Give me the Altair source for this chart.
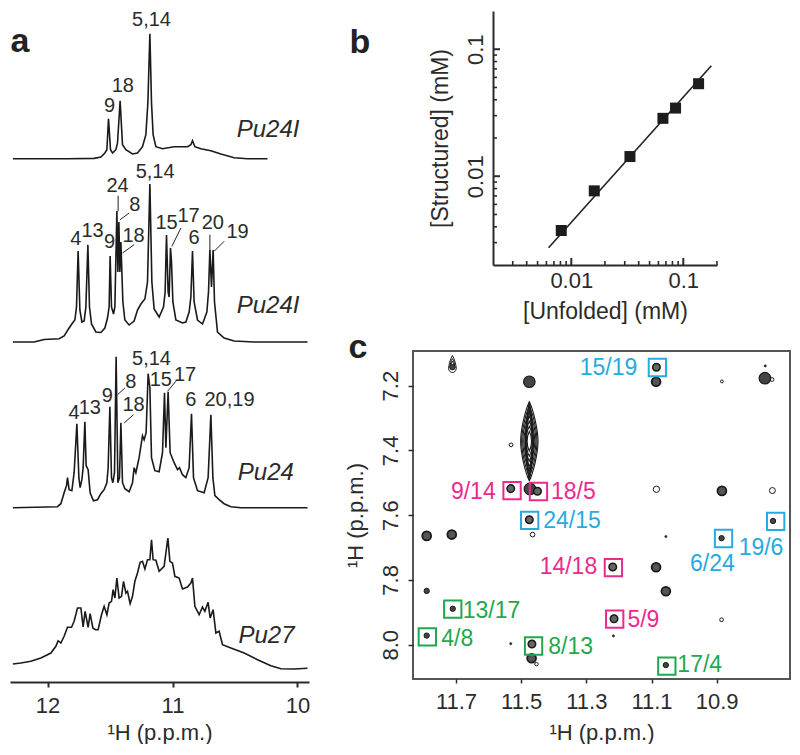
import altair as alt
import pandas as pd

FONT = "Liberation Sans"
INK = "#2b2b2b"

# ---------- panel a: spectra (ppm, intensity above own baseline) ----------
s1_ppm = [12.277,12.107,11.84,11.627,11.573,11.541,11.525,11.512,11.496,11.48,11.453,11.44,11.419,11.40,11.373,11.32,11.28,11.24,11.213,11.197,11.181,11.168,11.155,11.133,11.08,10.987,10.88,10.853,10.84,10.821,10.773,10.693,10.613,10.507,10.40,10.24]
s1_int = [0,0,0,0.3,1.7,5.7,9,40,9,5.7,9,15.7,58,14,9,4.7,5.7,12,24,56,125,56,24,12,10,12,12,14,18,12,10,8,4.7,1,0,0]
s2_ppm = [12.277,12.107,12.027,11.907,11.867,11.827,11.80,11.781,11.768,11.755,11.741,11.725,11.707,11.693,11.677,11.664,11.648,11.613,11.573,11.541,11.52,11.507,11.499,11.488,11.472,11.461,11.445,11.437,11.429,11.421,11.413,11.397,11.381,11.347,11.307,11.28,11.253,11.221,11.20,11.181,11.165,11.147,11.107,11.072,11.059,11.048,11.035,11.027,11.016,11.008,10.997,10.973,10.92,10.893,10.867,10.853,10.84,10.827,10.80,10.76,10.725,10.712,10.701,10.688,10.675,10.664,10.64,10.587,10.507,10.347,9.92]
s2_int = [0,0,2.5,3.3,6,14,19,22,35,91,32,20,21,35,97,35,18,10,9.5,14,24,35,86,35,28,35,131,70,120,70,100,40,22,17,21,32,38,43,60,158,60,33,25,35,50,107,50,45,94,80,40,22,19,20,30,45,91,40,22,18,30,50,92,55,92,40,10,4,1,0,0]
s3_ppm = [12.277,11.92,11.893,11.867,11.848,11.84,11.827,11.805,11.787,11.765,11.749,11.739,11.725,11.715,11.701,11.691,11.675,11.659,11.632,11.60,11.573,11.547,11.525,11.515,11.501,11.488,11.477,11.464,11.451,11.437,11.424,11.413,11.40,11.381,11.347,11.32,11.307,11.293,11.267,11.24,11.227,11.211,11.195,11.181,11.168,11.141,11.107,11.08,11.064,11.053,11.035,11.019,10.987,10.96,10.944,10.92,10.893,10.867,10.848,10.832,10.80,10.747,10.715,10.693,10.677,10.661,10.627,10.587,10.533,10.453,9.92]
s3_int = [0,1,4,15,22,30,18,17,35,84,30,20,28,40,86,42,38,15,7,8,14,18,25,40,101,30,25,35,151,25,30,85,25,19,16,25,40,35,50,72,68,75,134,120,50,37,36,55,115,60,116,55,45,38,40,33,30,40,94,30,17,15,30,93,30,12,8,4,1,0,0]
s4_ppm = [12.277,12.213,12.133,12.053,11.973,11.933,11.915,11.893,11.867,11.84,11.808,11.787,11.76,11.733,11.715,11.699,11.675,11.659,11.637,11.616,11.595,11.568,11.547,11.525,11.507,11.488,11.475,11.461,11.445,11.427,11.408,11.392,11.373,11.36,11.339,11.32,11.301,11.28,11.259,11.24,11.221,11.20,11.181,11.168,11.155,11.133,11.107,11.067,11.053,11.037,11.021,11.0,10.981,10.947,10.92,10.88,10.853,10.84,10.821,10.787,10.76,10.741,10.715,10.699,10.675,10.653,10.627,10.60,10.533,10.427,10.32,10.213,10.133,10.027,9.92]
s4_int = [5,6,7.7,11,16,22.7,28.3,26,32.7,41.7,41.7,47.7,61,61,42,57.7,41.7,55.3,41,39.3,39.3,54.3,62.7,54.3,66,67.7,79.3,71,91,71,72.7,87.7,76,77.7,65.3,72.7,87.7,96,106.7,107.7,100,109.3,109.3,129.3,109.3,108.7,97.7,102.7,116,131,107.7,106,92.7,91,80,82,86,91,62.7,54.3,62,57.7,66.7,51,59.3,36,37.7,24.3,21,16,9.3,3.3,0.3,0,0.7]
baselines = [523.3, 340.0, 174.3, 13.0]

peak_text = ["5,14","18","9","5,14","24","8","13","4","9","18","15","17","6","20","19","5,14","15","17","8","9","4","13","18","6","20,19"]
peak_x = [11.168,11.397,11.504,11.139,11.44,11.301,11.64,11.773,11.504,11.312,11.048,10.872,10.827,10.677,10.48,11.168,11.093,10.899,11.333,11.522,11.787,11.662,11.312,10.853,10.544]
peak_y = [662.3,595.7,576.3,509.7,496.3,477.3,450.7,443,439.7,445.7,459,465.7,444,459,449.7,323,302.3,307.3,299.7,286,269,274,277.3,282.3,281.7]

name_text = ["Pu24I","Pu24I","Pu24","Pu27"]
name_x = [10.235,10.235,10.253,10.248]
name_y = [552,375.7,209,46.3]

lead_x1 = [11.435,11.419,11.4,11.005,10.701,10.667,11.68,11.44,11.387,11.04]
lead_x2 = [11.435,11.347,11.307,10.933,10.701,10.587,11.68,11.381,11.312,10.973]
lead_y1 = [470.7,462.3,429,435.7,430.7,430.7,429.7,287.3,259,290.7]
lead_y2 = [486.3,469,437.3,454,447.3,440.7,437.3,294,267.3,300.7]

# ---------- panel b ----------
unfolded = [0.00814,0.01604,0.0334,0.0658,0.0853,0.137]
structured = [0.00374,0.00767,0.01429,0.02857,0.0344,0.0535]
fit_x = [0.00627,0.178]
fit_y = [0.00273,0.0741]
major_ticks = [0.01,0.1]
minor_x_ticks = [0.003,0.004,0.005,0.006,0.007,0.008,0.009,0.02,0.03,0.04,0.05,0.06,0.07,0.08,0.09,0.2]
minor_y_ticks = [0.003,0.004,0.005,0.006,0.007,0.008,0.009,0.02,0.03,0.04,0.05,0.06,0.07,0.08,0.09]

# ---------- panel c: cross peaks ----------
large_x = [11.475,10.752,11.473]
large_y = [7.188,7.177,7.519]
medlarge_x = [10.884,11.056,11.086,11.79,11.713,11.468,11.086]
medlarge_y = [7.525,7.835,7.761,7.664,7.66,8.042,7.188]
medium_x = [11.085,11.532,11.45,11.475,11.219,11.215,11.467]
medium_y = [7.143,7.518,7.526,7.614,7.76,7.92,7.998]
small_x = [10.727,10.885,11.79,11.71,11.79,11.056,11.711]
small_y = [7.618,7.671,7.834,7.889,7.972,8.063,7.143]
tiny_x = [10.751,11.056,11.217,11.532]
tiny_y = [7.139,7.666,7.973,7.997]
open_x = [11.085,10.729,11.465,10.884,10.73,11.531,10.885,11.453]
open_y = [7.52,7.524,7.66,7.187,7.181,7.383,7.923,8.06]
open_d = [40,36,22,8,14,14,14,12]
egg_x = [11.711,11.711,11.711]
egg_y = [7.133,7.133,7.133]
egg_h = [17,11,6]
lens_x = [11.475]*7
lens_y = [7.372]*7
lens_h = [79,70,60,50,40,30,20]
slim_x = [11.475]*4
slim_y = [7.372]*4
slim_h = [78,74,66,56]

box_group = ["blue"]*4 + ["pink"]*4 + ["green"]*4
box_x = [11.082,11.474,10.719,10.879,11.528,11.447,11.217,11.213,11.71,11.788,11.462,11.053]
box_y = [7.144,7.616,7.619,7.672,7.524,7.527,7.762,7.921,7.89,7.976,8.004,8.066]
label_text = ["15/19","24/15","19/6","6/24","9/14","18/5","14/18","5/9","13/17","4/8","8/13","17/4"]
label_x = [11.232,11.344,10.764,10.913,11.647,11.34,11.355,11.125,11.591,11.696,11.348,10.952]
label_y = [7.147,7.619,7.701,7.751,7.529,7.529,7.76,7.923,7.895,7.982,8.007,8.062]
group_names = ["blue","pink","green"]
group_colors = ["#27aae1","#ec2a8e","#1fa84f"]

# ---------- panel a chart ----------
spec = pd.concat([
    pd.DataFrame({"ppm": p, "v": [b + i for i in v], "s": n})
    for p, v, b, n in zip([s1_ppm,s2_ppm,s3_ppm,s4_ppm],[s1_int,s2_int,s3_int,s4_int],baselines,"abcd")
])
xa = alt.X("ppm:Q", scale=alt.Scale(domain=[12.3,9.908], nice=False, zero=False),
           axis=alt.Axis(values=[12,11,10], format="d", title="¹H (p.p.m.)", grid=False,
                         domainColor=INK, domainWidth=2, tickColor=INK, tickWidth=2, tickSize=5,
                         labelFont=FONT, labelFontSize=22, labelColor=INK, labelPadding=8,
                         titleFont=FONT, titleFontSize=22, titleFontWeight="normal", titleColor=INK, titlePadding=6))
ya = alt.Y("v:Q", scale=alt.Scale(domain=[0,671], nice=False, zero=False), axis=None)

a_lines = alt.Chart(spec).mark_line(color="#1a1a1a", strokeWidth=1.6, strokeJoin="miter", clip=True).encode(x=xa, y=ya, detail="s:N")
a_text = alt.Chart(pd.DataFrame({"ppm":peak_x,"v":peak_y,"t":peak_text})).mark_text(
    font=FONT, fontSize=20, color=INK).encode(x="ppm:Q", y="v:Q", text="t:N")
a_names = alt.Chart(pd.DataFrame({"ppm":name_x,"v":name_y,"t":name_text})).mark_text(
    font=FONT, fontSize=24, fontStyle="italic", color=INK).encode(x="ppm:Q", y="v:Q", text="t:N")
a_lead = alt.Chart(pd.DataFrame({"ppm":lead_x1,"p2":lead_x2,"v":lead_y1,"v2":lead_y2})).mark_rule(
    color="#222", strokeWidth=1).encode(x="ppm:Q", x2="p2:Q", y="v:Q", y2="v2:Q")
a_letter = alt.Chart(pd.DataFrame({"k":[0]})).mark_text(text="a", font=FONT, fontSize=34, fontWeight="bold", color="#222").encode(
    x=alt.value(10), y=alt.value(31))
panel_a = alt.layer(a_lines, a_text, a_names, a_lead, a_letter).properties(width=299, height=671)

# ---------- panel b chart ----------
bx = alt.Scale(type="log", domain=[0.002,0.2], nice=False)
by = alt.Scale(type="log", domain=[0.002,0.2], nice=False)
b_xaxis = alt.Axis(values=major_ticks, format="~g", title="[Unfolded] (mM)", grid=False, tickSize=0,
                   domainColor=INK, domainWidth=2, labelFont=FONT, labelFontSize=22, labelColor=INK, labelPadding=5,
                   titleFont=FONT, titleFontSize=23, titleFontWeight="normal", titleColor=INK, titlePadding=9)
b_yaxis = alt.Axis(values=major_ticks, format="~g", title="[Structured] (mM)", grid=False, tickSize=0, labelAngle=270,
                   domainColor=INK, domainWidth=2, labelFont=FONT, labelFontSize=22, labelColor=INK, labelPadding=6,
                   labelAlign="center", labelBaseline="bottom",
                   titleFont=FONT, titleFontSize=23, titleFontWeight="normal", titleColor=INK, titlePadding=12)
b_fit = alt.Chart(pd.DataFrame({"x":fit_x,"y":fit_y})).mark_line(color="#222", strokeWidth=1.6).encode(
    x=alt.X("x:Q", scale=bx, axis=b_xaxis), y=alt.Y("y:Q", scale=by, axis=b_yaxis))
b_pts = alt.Chart(pd.DataFrame({"x":unfolded,"y":structured})).mark_square(color="#1c1c1c", size=121, opacity=1).encode(
    x=alt.X("x:Q", scale=bx), y=alt.Y("y:Q", scale=by))
b_xmaj = alt.Chart(pd.DataFrame({"x":major_ticks})).mark_rule(color=INK, strokeWidth=2).encode(
    x=alt.X("x:Q", scale=bx), y=alt.value(254), y2=alt.value(247))
b_xmin = alt.Chart(pd.DataFrame({"x":minor_x_ticks})).mark_rule(color=INK, strokeWidth=1.6).encode(
    x=alt.X("x:Q", scale=bx), y=alt.value(254), y2=alt.value(250))
b_ymaj = alt.Chart(pd.DataFrame({"y":major_ticks})).mark_rule(color=INK, strokeWidth=2).encode(
    y=alt.Y("y:Q", scale=by), x=alt.value(0), x2=alt.value(7))
b_ymin = alt.Chart(pd.DataFrame({"y":minor_y_ticks})).mark_rule(color=INK, strokeWidth=1.6).encode(
    y=alt.Y("y:Q", scale=by), x=alt.value(0), x2=alt.value(4))
b_letter = alt.Chart(pd.DataFrame({"k":[0]})).mark_text(text="b", font=FONT, fontSize=34, fontWeight="bold", color="#222").encode(
    x=alt.value(-133), y=alt.value(32))
panel_b = alt.layer(b_fit, b_xmaj, b_xmin, b_ymaj, b_ymin, b_pts, b_letter).properties(width=224, height=254)

# ---------- panel c chart ----------
cx = alt.Scale(domain=[11.832,10.675], nice=False, zero=False)
cy = alt.Scale(domain=[8.106,7.093], nice=False, zero=False)
c_xaxis = alt.Axis(values=[11.7,11.5,11.3,11.1,10.9], format=".1f", title="¹H (p.p.m.)", grid=False,
                   domain=False, tickColor=INK, tickWidth=1.5, tickSize=4,
                   labelFont=FONT, labelFontSize=22, labelColor=INK, labelPadding=8,
                   titleFont=FONT, titleFontSize=22, titleFontWeight="normal", titleColor=INK, titlePadding=10)
c_yaxis = alt.Axis(values=[7.2,7.4,7.6,7.8,8.0], format=".1f", title="¹H (p.p.m.)", grid=False,
                   domain=False, tickColor=INK, tickWidth=1.5, tickSize=5, labelAngle=270,
                   labelAlign="center", labelBaseline="bottom",
                   labelFont=FONT, labelFontSize=22, labelColor=INK, labelPadding=6,
                   titleFont=FONT, titleFontSize=22, titleFontWeight="normal", titleColor=INK, titlePadding=12)

def dots(xs, ys, d, fill, stroke="#1a1a1a", sw=1.2):
    return alt.Chart(pd.DataFrame({"x":xs,"y":ys})).mark_point(
        shape="circle", filled=False, fill=fill, fillOpacity=1, stroke=stroke, strokeWidth=sw, size=d*d*0.785, opacity=1
    ).encode(x=alt.X("x:Q", scale=cx), y=alt.Y("y:Q", scale=cy))

LENS = "M0,-1C0.1,-0.8 0.22,-0.3 0.22,0C0.22,0.3 0.1,0.8 0,1C-0.1,0.8 -0.22,0.3 -0.22,0C-0.22,-0.3 -0.1,-0.8 0,-1Z"
SLIM = "M0,-1C0.05,-0.8 0.1,-0.3 0.1,0C0.1,0.3 0.05,0.8 0,1C-0.05,0.8 -0.1,0.3 -0.1,0C-0.1,-0.3 -0.05,-0.8 0,-1Z"
EGG = "M0,-1C0.25,-0.6 0.45,0.2 0.45,0.5C0.45,0.85 0.2,1 0,1C-0.2,1 -0.45,0.85 -0.45,0.5C-0.45,0.2 -0.25,-0.6 0,-1Z"
c_lens = alt.Chart(pd.DataFrame({"x":lens_x,"y":lens_y,"h":lens_h})).mark_point(
    shape=LENS, filled=False, stroke="#1a1a1a", strokeWidth=1.1, opacity=1).encode(
    x=alt.X("x:Q", scale=cx, axis=c_xaxis), y=alt.Y("y:Q", scale=cy, axis=c_yaxis),
    size=alt.Size("s:Q", scale=None, legend=None)).transform_calculate(s="datum.h*datum.h")
c_slim = alt.Chart(pd.DataFrame({"x":slim_x,"y":slim_y,"h":slim_h})).mark_point(
    shape=SLIM, filled=False, stroke="#1a1a1a", strokeWidth=1, opacity=1).encode(
    x=alt.X("x:Q", scale=cx), y=alt.Y("y:Q", scale=cy),
    size=alt.Size("s:Q", scale=None, legend=None)).transform_calculate(s="datum.h*datum.h")
c_egg = alt.Chart(pd.DataFrame({"x":egg_x,"y":egg_y,"h":egg_h})).mark_point(
    shape=EGG, filled=False, stroke="#1a1a1a", strokeWidth=1, opacity=1).encode(
    x=alt.X("x:Q", scale=cx), y=alt.Y("y:Q", scale=cy),
    size=alt.Size("s:Q", scale=None, legend=None)).transform_calculate(s="datum.h*datum.h")
c_open = alt.Chart(pd.DataFrame({"x":open_x,"y":open_y,"d":open_d})).mark_point(
    shape="circle", filled=False, stroke="#1a1a1a", strokeWidth=1, opacity=1).encode(
    x=alt.X("x:Q", scale=cx), y=alt.Y("y:Q", scale=cy),
    size=alt.Size("d:Q", scale=None, legend=None))
c_box = alt.Chart(pd.DataFrame({"x":box_x,"y":box_y,"g":box_group})).mark_point(
    shape="square", filled=False, size=300, strokeWidth=2, opacity=1).encode(
    x=alt.X("x:Q", scale=cx), y=alt.Y("y:Q", scale=cy),
    stroke=alt.Color("g:N", scale=alt.Scale(domain=group_names, range=group_colors), legend=None))
c_lab = alt.Chart(pd.DataFrame({"x":label_x,"y":label_y,"t":label_text,"g":box_group})).mark_text(
    font=FONT, fontSize=23).encode(
    x=alt.X("x:Q", scale=cx), y=alt.Y("y:Q", scale=cy), text="t:N",
    color=alt.Color("g:N", scale=alt.Scale(domain=group_names, range=group_colors), legend=None))
c_letter = alt.Chart(pd.DataFrame({"k":[0]})).mark_text(text="c", font=FONT, fontSize=34, fontWeight="bold", color="#222").encode(
    x=alt.value(-55), y=alt.value(-3))
panel_c = alt.layer(
    c_lens, c_slim, c_egg,
    dots(large_x, large_y, 13, "#444"),
    dots(medlarge_x, medlarge_y, 10, "#555", sw=1.8),
    dots(medium_x, medium_y, 8.5, "#666", sw=1.5),
    dots(small_x, small_y, 6, "#444", sw=1),
    dots(tiny_x, tiny_y, 2.5, "#333", sw=0.6),
    c_open, c_box, c_lab, c_letter
).properties(width=377, height=328, view=alt.ViewConfig(stroke="#555", strokeWidth=2))

spacer = alt.Chart(pd.DataFrame({"k":[0]})).mark_point(opacity=0).encode(
    x=alt.value(0), y=alt.value(0)).properties(width=80, height=10)

top_row = alt.hconcat(spacer, panel_b, spacing=0, bounds="flush")
right = alt.vconcat(top_row, panel_c, spacing=340, bounds="flush")
chart = alt.hconcat(panel_a, right, spacing=104, bounds="flush").properties(
    padding={"left":2,"top":0,"right":0,"bottom":0}, background="white"
).configure_view(stroke=None)

chart.save("out.html", embed_options={"renderer": "svg", "actions": False})
